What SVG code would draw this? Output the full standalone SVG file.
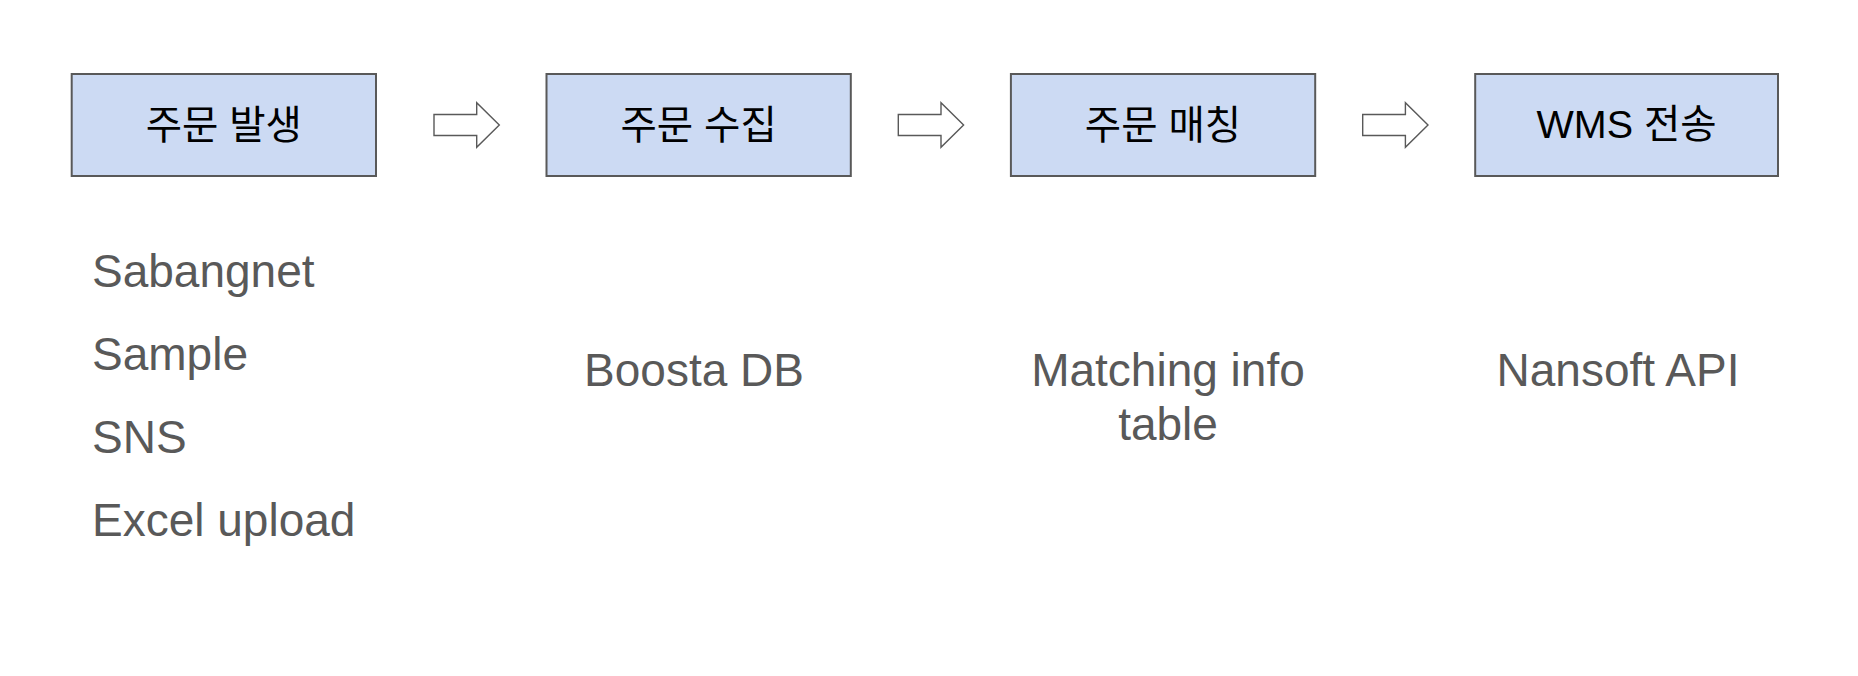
<svg xmlns="http://www.w3.org/2000/svg" width="1858" height="676" viewBox="0 0 1858 676">
<style>
.box{fill:#ccdaf3;stroke:#595959;stroke-width:2}
.lbl{font-family:"Liberation Sans","Noto Sans CJK KR",sans-serif;font-size:39.5px;fill:#000;text-anchor:middle}
.note{font-family:"Liberation Sans",Arial,sans-serif;font-size:46px;fill:#595959}
.mid{text-anchor:middle}
.arr{fill:#fff;stroke:#595959;stroke-width:1.4;stroke-linejoin:miter}
</style>
<defs>
<path id="arrow" d="M0,-10.5 H42.7 V-22.3 L65.3,0 L42.7,22.3 V10.5 H0 Z"/>
</defs>
<rect width="1858" height="676" fill="#fff"/>
<g id="node1">
<rect class="box" x="71.7" y="74" width="304.3" height="102"/>
<text class="lbl" x="223.8" y="139">주문 발생</text>
</g>
<g id="node2">
<rect class="box" x="546.5" y="74" width="304.3" height="102"/>
<text class="lbl" x="698.6" y="139">주문 수집</text>
</g>
<g id="node3">
<rect class="box" x="1010.9" y="74" width="304.3" height="102"/>
<text class="lbl" x="1163" y="139">주문 매칭</text>
</g>
<g id="node4">
<rect class="box" x="1475.2" y="74" width="302.8" height="102"/>
<text class="lbl" x="1626.6" y="138">WMS 전송</text>
</g>
<g id="connectors">
<use href="#arrow" class="arr" x="434" y="125"/>
<use href="#arrow" class="arr" x="898.3" y="125"/>
<use href="#arrow" class="arr" x="1362.7" y="125"/>
</g>
<g id="notes">
<text class="note" x="92" y="287">Sabangnet</text>
<text class="note" x="92" y="370">Sample</text>
<text class="note" x="92" y="453">SNS</text>
<text class="note" x="92" y="536">Excel upload</text>
<text class="note mid" x="694" y="386">Boosta DB</text>
<text class="note mid" x="1168" y="386">Matching info</text>
<text class="note mid" x="1168" y="440">table</text>
<text class="note mid" x="1618" y="386">Nansoft API</text>
</g>
</svg>
